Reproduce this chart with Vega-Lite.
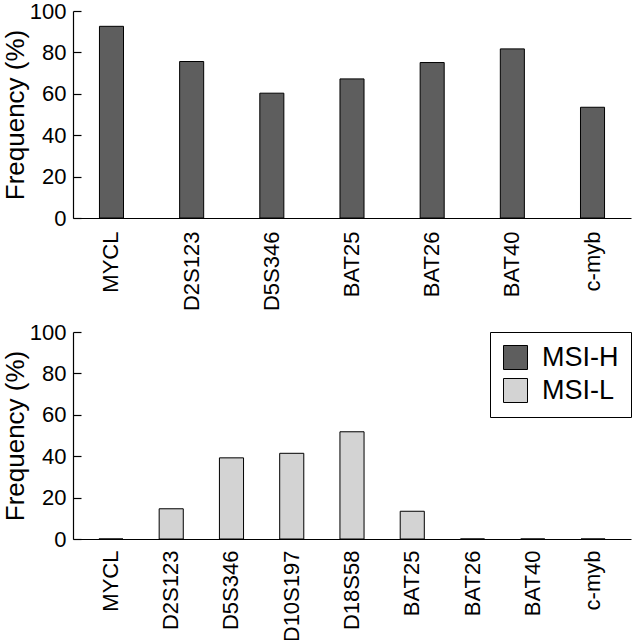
{
  "$schema": "https://vega.github.io/schema/vega-lite/v6.json",
  "padding": {"left": 2, "top": 0, "right": 0, "bottom": 0},
  "spacing": 10,
  "config": {
    "font": "Liberation Sans",
    "view": {"stroke": null},
    "axis": {"domainColor": "black", "tickColor": "black", "labelColor": "black", "titleColor": "black", "grid": false, "domainWidth": 1.2, "tickWidth": 1.2},
    "legend": {"strokeColor": "black", "fillColor": "white", "padding": 12, "symbolType": "square", "symbolSize": 576, "symbolStrokeColor": "black", "symbolStrokeWidth": 1, "labelFontSize": 27, "labelColor": "black", "labelOffset": 13, "rowPadding": 4, "orient": "top-right", "offset": 0, "title": null}
  },
  "resolve": {"scale": {"color": "independent", "x": "independent"}},
  "vconcat": [
    {
      "width": 558,
      "height": 207,
      "data": {"values": [
        {"marker": "MYCL", "freq": 92.6, "group": "MSI-H"},
        {"marker": "D2S123", "freq": 75.6, "group": "MSI-H"},
        {"marker": "D5S346", "freq": 60.3, "group": "MSI-H"},
        {"marker": "BAT25", "freq": 67.2, "group": "MSI-H"},
        {"marker": "BAT26", "freq": 75.1, "group": "MSI-H"},
        {"marker": "BAT40", "freq": 81.7, "group": "MSI-H"},
        {"marker": "c-myb", "freq": 53.5, "group": "MSI-H"}
      ]},
      "mark": {"type": "bar", "stroke": "black", "strokeWidth": 1},
      "encoding": {
        "x": {"field": "marker", "type": "nominal", "sort": null,
              "scale": {"paddingInner": 0.7, "paddingOuter": 0.33},
              "axis": {"title": null, "ticks": false, "labelAngle": -90, "labelFontSize": 22, "labelPadding": 13}},
        "y": {"field": "freq", "type": "quantitative",
              "scale": {"domain": [0, 100], "nice": false},
              "axis": {"title": "Frequency (%)", "titleFontSize": 26, "titleFontWeight": "normal", "titlePadding": 1, "values": [0, 20, 40, 60, 80, 100], "labelFontSize": 22, "tickSize": -8, "labelPadding": 15}},
        "color": {"field": "group", "type": "nominal",
                  "scale": {"domain": ["MSI-H", "MSI-L"], "range": ["#5e5e5e", "#d3d3d3"]},
                  "legend": null}
      }
    },
    {
      "width": 558,
      "height": 207,
      "data": {"values": [
        {"marker": "MYCL", "freq": 0, "group": "MSI-L"},
        {"marker": "D2S123", "freq": 14.6, "group": "MSI-L"},
        {"marker": "D5S346", "freq": 39.2, "group": "MSI-L"},
        {"marker": "D10S197", "freq": 41.4, "group": "MSI-L"},
        {"marker": "D18S58", "freq": 51.8, "group": "MSI-L"},
        {"marker": "BAT25", "freq": 13.4, "group": "MSI-L"},
        {"marker": "BAT26", "freq": 0, "group": "MSI-L"},
        {"marker": "BAT40", "freq": 0, "group": "MSI-L"},
        {"marker": "c-myb", "freq": 0, "group": "MSI-L"}
      ]},
      "mark": {"type": "bar", "stroke": "black", "strokeWidth": 1},
      "encoding": {
        "x": {"field": "marker", "type": "nominal", "sort": null,
              "scale": {"paddingInner": 0.6, "paddingOuter": 0.43},
              "axis": {"title": null, "ticks": false, "labelAngle": -90, "labelFontSize": 22, "labelPadding": 11}},
        "y": {"field": "freq", "type": "quantitative",
              "scale": {"domain": [0, 100], "nice": false},
              "axis": {"title": "Frequency (%)", "titleFontSize": 26, "titleFontWeight": "normal", "titlePadding": 1, "values": [0, 20, 40, 60, 80, 100], "labelFontSize": 22, "tickSize": -8, "labelPadding": 15}},
        "color": {"field": "group", "type": "nominal",
                  "scale": {"domain": ["MSI-H", "MSI-L"], "range": ["#5e5e5e", "#d3d3d3"]},
                  "legend": {"orient": "top-right"}}
      }
    }
  ]
}
